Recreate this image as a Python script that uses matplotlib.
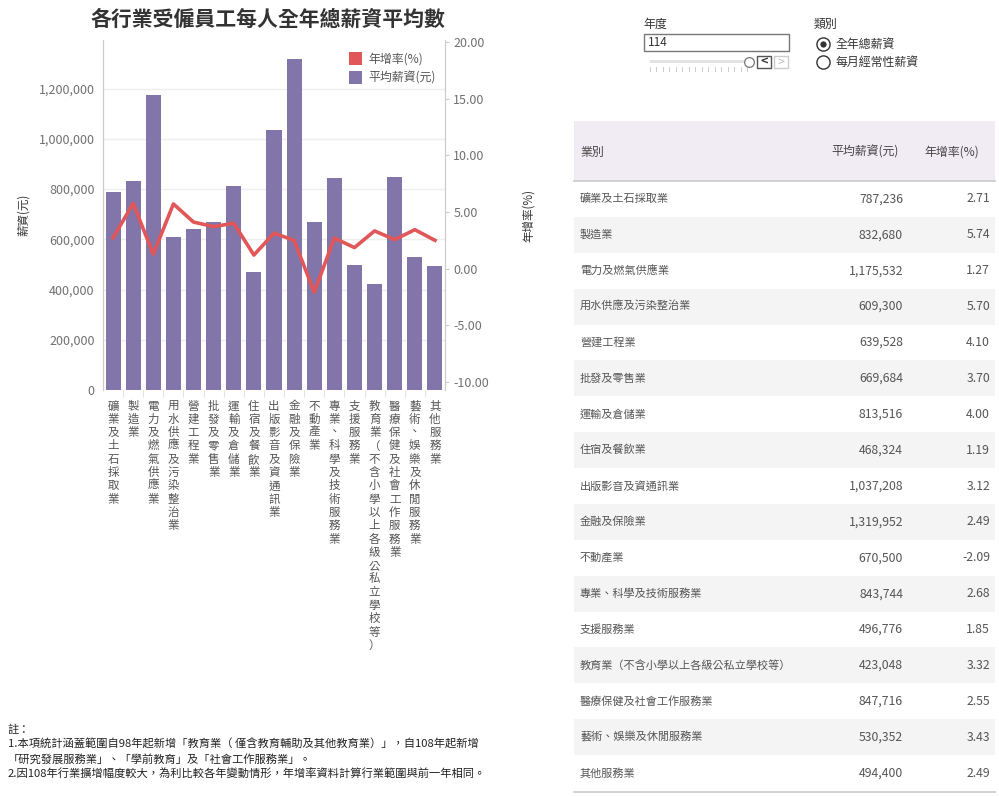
import matplotlib
matplotlib.use("Agg")
import matplotlib.pyplot as plt
import matplotlib.transforms as mtransforms
from matplotlib.patches import Rectangle
from matplotlib.lines import Line2D
from matplotlib.ticker import FuncFormatter, FixedLocator

plt.rcParams['font.family'] = ['Noto Sans CJK TC', 'DejaVu Sans']

# ---------------- data ----------------
industries = [
    "礦業及土石採取業", "製造業", "電力及燃氣供應業", "用水供應及污染整治業",
    "營建工程業", "批發及零售業", "運輸及倉儲業", "住宿及餐飲業",
    "出版影音及資通訊業", "金融及保險業", "不動產業", "專業、科學及技術服務業",
    "支援服務業", "教育業（不含小學以上各級公私立學校等）", "醫療保健及社會工作服務業",
    "藝術、娛樂及休閒服務業", "其他服務業",
]
avg_salary = [787236, 832680, 1175532, 609300, 639528, 669684, 813516, 468324,
              1037208, 1319952, 670500, 843744, 496776, 423048, 847716, 530352, 494400]
growth_rate = [2.71, 5.74, 1.27, 5.70, 4.10, 3.70, 4.00, 1.19,
               3.12, 2.49, -2.09, 2.68, 1.85, 3.32, 2.55, 3.43, 2.49]
left_ticks = [0, 200000, 400000, 600000, 800000, 1000000, 1200000]
right_ticks = [-10, -5, 0, 5, 10, 15, 20]
title = "各行業受僱員工每人全年總薪資平均數"
year_value = "114"
notes = [
    "註：",
    "1.本項統計涵蓋範圍自98年起新增「教育業（ 僅含教育輔助及其他教育業）」，自108年起新增",
    "「研究發展服務業」、「學前教育」及「社會工作服務業」。",
    "2.因108年行業擴增幅度較大，為利比較各年變動情形，年增率資料計算行業範圍與前一年相同。",
]

W, H = 999, 796
def fx(x): return x / W
def fy(y): return 1 - y / H

BAR = "#8175aa"
RED = "#e15759"
TXT = "#333333"
TICK = "#707070"

fig = plt.figure(figsize=(W / 100, H / 100), dpi=100)
fig.patch.set_facecolor("white")

ax = fig.add_axes([fx(103), fy(390), fx(445) - fx(103), fy(40) - fy(390)])
ax2 = ax.twinx()

x = list(range(len(industries)))
ax.bar(x, avg_salary, width=0.75, color=BAR, zorder=2)
ax.set_xlim(-0.5, len(industries) - 0.5)
ax.set_ylim(0, 1394000)
ax.yaxis.set_major_locator(FixedLocator(left_ticks))
ax.yaxis.set_major_formatter(FuncFormatter(lambda v, p: f"{int(v):,}"))
ax.grid(axis="y", color="#eeeeee", linewidth=1, zorder=0)
ax.set_axisbelow(True)
ax.tick_params(axis="y", colors="#cccccc", labelcolor=TICK, labelsize=9, length=0, pad=6)
ax.set_xticks([])
ax.set_xticks([i + 0.5 for i in x[:-1]], minor=True)
ax.tick_params(axis="x", which="minor", length=5, color="#e3e3e3", width=0.8)

ax2.plot(x, growth_rate, color=RED, linewidth=2.6, zorder=3, solid_joinstyle="round")
ax2.set_ylim(-10.72, 20.17)
ax2.yaxis.set_major_locator(FixedLocator(right_ticks))
ax2.yaxis.set_major_formatter(FuncFormatter(lambda v, p: f"{v:.2f}"))
ax2.tick_params(axis="y", colors="#cccccc", labelcolor=TICK, labelsize=9, length=3, pad=3)

for a in (ax, ax2):
    a.spines["top"].set_visible(False)
    a.spines["bottom"].set_visible(False)
    a.spines["left"].set_color("#cccccc")
    a.spines["right"].set_color("#cccccc")
    a.patch.set_alpha(0)

# vertical category labels (stacked characters)
blend = mtransforms.blended_transform_factory(ax.transData, fig.transFigure)
for i, name in enumerate(industries):
    for k, ch in enumerate(name):
        ax.text(i, fy(406 + 13.3 * k), ch, transform=blend, ha="center", va="center",
                fontsize=8.3, color="#555555", clip_on=False)

# axis titles
fig.text(fx(23), fy(215), "薪資(元)", rotation=90, ha="center", va="center", fontsize=8.3, color=TXT)
fig.text(fx(528), fy(216), "年增率(%)", rotation=90, ha="center", va="center", fontsize=8.3, color=TXT)

# title
fig.text(fx(268), fy(19), title, ha="center", va="center", fontsize=15, fontweight="bold", color=TXT)

# legend
fig.patches.append(Rectangle((fx(349), fy(65)), fx(13), fy(52) - fy(65), transform=fig.transFigure,
                             facecolor=RED, edgecolor="none"))
fig.patches.append(Rectangle((fx(349), fy(84)), fx(13), fy(71) - fy(84), transform=fig.transFigure,
                             facecolor=BAR, edgecolor="none"))
fig.text(fx(368), fy(59), "年增率(%)", ha="left", va="center", fontsize=8.6, color="#555555")
fig.text(fx(368), fy(78), "平均薪資(元)", ha="left", va="center", fontsize=8.6, color="#555555")

# ---------------- controls ----------------
fig.text(fx(643), fy(24), "年度", ha="left", va="center", fontsize=8.6, color=TXT)
fig.patches.append(Rectangle((fx(644), fy(51)), fx(145), fy(34) - fy(51), transform=fig.transFigure,
                             facecolor="white", edgecolor="#777777", linewidth=1))
fig.text(fx(648), fy(43), year_value, ha="left", va="center", fontsize=8.6, color=TXT)
fig.patches.append(Rectangle((fx(650), fy(63)), fx(97), fy(60) - fy(63), transform=fig.transFigure,
                             facecolor="#e3e3e3", edgecolor="none"))
for t in range(16):
    xx = 650 + t * (97 / 15)
    fig.add_artist(Line2D([fx(xx), fx(xx)], [fy(67), fy(71)], transform=fig.transFigure,
                          color="#cccccc", linewidth=0.7))
fig.add_artist(Line2D([fx(749)], [fy(61.5)], transform=fig.transFigure, marker="o", markersize=7,
                      markerfacecolor="white", markeredgecolor="#777777", markeredgewidth=0.9))
fig.patches.append(Rectangle((fx(757), fy(68)), fx(14), fy(56) - fy(68), transform=fig.transFigure,
                             facecolor="white", edgecolor="#555555", linewidth=1))
fig.text(fx(764), fy(62), "<", ha="center", va="center", fontsize=9, color="#333333", fontweight="bold")
fig.patches.append(Rectangle((fx(774), fy(68)), fx(14), fy(56) - fy(68), transform=fig.transFigure,
                             facecolor="white", edgecolor="#cccccc", linewidth=1))
fig.text(fx(781), fy(62), ">", ha="center", va="center", fontsize=9, color="#bbbbbb")

fig.text(fx(814), fy(24), "類別", ha="left", va="center", fontsize=8.6, color=TXT)
fig.add_artist(Line2D([fx(823)], [fy(44)], transform=fig.transFigure, marker="o", markersize=9.5,
                      markerfacecolor="white", markeredgecolor="#333333", markeredgewidth=1))
fig.add_artist(Line2D([fx(823)], [fy(44)], transform=fig.transFigure, marker="o", markersize=4.5,
                      markerfacecolor="#333333", markeredgecolor="none"))
fig.add_artist(Line2D([fx(823)], [fy(62)], transform=fig.transFigure, marker="o", markersize=9.5,
                      markerfacecolor="white", markeredgecolor="#333333", markeredgewidth=1))
fig.text(fx(836), fy(44), "全年總薪資", ha="left", va="center", fontsize=8.6, color=TXT)
fig.text(fx(836), fy(62), "每月經常性薪資", ha="left", va="center", fontsize=8.6, color=TXT)

# ---------------- table ----------------
TL, TR = 574, 995
fig.patches.append(Rectangle((fx(TL), fy(181)), fx(TR - TL), fy(121) - fy(181), transform=fig.transFigure,
                             facecolor="#f1ebf3", edgecolor="none"))
fig.add_artist(Line2D([fx(TL), fx(TR)], [fy(181), fy(181)], transform=fig.transFigure,
                      color="#cfcfcf", linewidth=1.3))
fig.text(fx(580), fy(152), "業別", ha="left", va="center", fontsize=8.6, color="#444444")
fig.text(fx(899), fy(152), "平均薪資(元)", ha="right", va="center", fontsize=8.6, color="#444444")
fig.text(fx(979), fy(152), "年增率(%)", ha="right", va="center", fontsize=8.6, color="#444444")

row_h = (791 - 181) / len(industries)
for i, (name, sal, rate) in enumerate(zip(industries, avg_salary, growth_rate)):
    top = 181 + i * row_h
    if i % 2 == 1:
        fig.patches.append(Rectangle((fx(TL), fy(top + row_h)), fx(TR - TL), fy(top) - fy(top + row_h),
                                     transform=fig.transFigure, facecolor="#f4f4f4", edgecolor="none"))
    yc = top + row_h / 2
    fig.text(fx(580), fy(yc), name, ha="left", va="center", fontsize=8.0, color="#555555")
    fig.text(fx(903), fy(yc), f"{sal:,}", ha="right", va="center", fontsize=8.8, color="#555555")
    fig.text(fx(990), fy(yc), f"{rate:.2f}", ha="right", va="center", fontsize=8.8, color="#555555")
fig.add_artist(Line2D([fx(TL), fx(TR)], [fy(791.5), fy(791.5)], transform=fig.transFigure,
                      color="#cfcfcf", linewidth=1.3))

# ---------------- notes ----------------
for k, line in enumerate(notes):
    fig.text(fx(8), fy(729.5 + k * 15), line, ha="left", va="center", fontsize=8.1, color="#222222")

fig.savefig("out.png", dpi=100)
